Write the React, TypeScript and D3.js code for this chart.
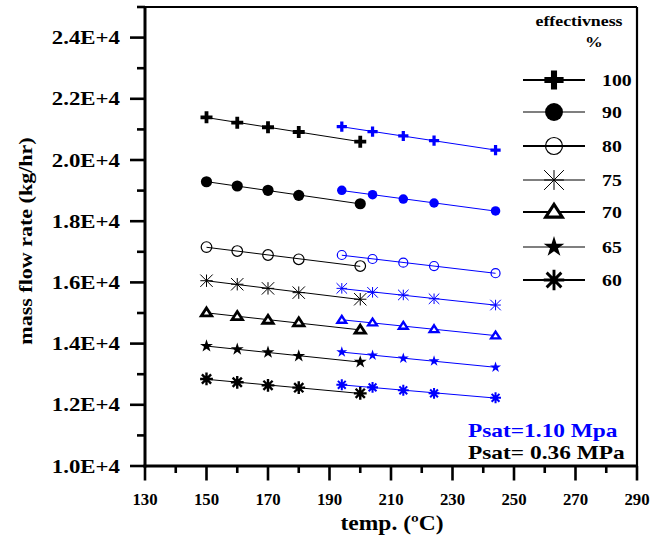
import React from 'react';
import * as d3 from 'd3';

// ---------- data ----------
const tempLow = [150, 160, 170, 180, 200];   // Psat = 0.36 MPa (black)
const tempHigh = [194, 204, 214, 224, 244];  // Psat = 1.10 MPa (blue)
const effectiveness = ['100', '90', '80', '75', '70', '65', '60'];
const markerTypes = ['plus', 'disc', 'circle', 'asterisk', 'triangle', 'star', 'boldAsterisk'];

const flowLow100 = [21395, 21220, 21070, 20915, 20600];
const flowLow90 = [19290, 19150, 19010, 18845, 18570];
const flowLow80 = [17155, 17025, 16895, 16755, 16535];
const flowLow75 = [16055, 15940, 15805, 15665, 15450];
const flowLow70 = [15010, 14890, 14770, 14685, 14445];
const flowLow65 = [13920, 13815, 13715, 13595, 13400];
const flowLow60 = [12845, 12735, 12635, 12560, 12375];

const flowHigh100 = [21090, 20925, 20785, 20630, 20325];
const flowHigh90 = [19010, 18865, 18725, 18595, 18335];
const flowHigh80 = [16895, 16765, 16645, 16535, 16300];
const flowHigh75 = [15805, 15675, 15590, 15465, 15260];
const flowHigh70 = [14770, 14685, 14575, 14465, 14260];
const flowHigh65 = [13725, 13620, 13520, 13430, 13225];
const flowHigh60 = [12655, 12570, 12475, 12375, 12230];

const lowSeries = [flowLow100, flowLow90, flowLow80, flowLow75, flowLow70, flowLow65, flowLow60];
const highSeries = [flowHigh100, flowHigh90, flowHigh80, flowHigh75, flowHigh70, flowHigh65, flowHigh60];

const xMajorTicks = d3.range(130, 291, 20);
const xMinorTicks = d3.range(140, 290, 20);
const yMajorTicks = d3.range(10000, 24001, 2000);
const yMinorTicks = d3.range(11000, 25001, 2000);

const pressureLabels = ['Psat=1.10 Mpa', 'Psat= 0.36 MPa'];

// ---------- layout ----------
const W = 665, H = 541;
const X0 = 145, X1 = 637, Y0 = 466, Y1 = 7;
const x = d3.scaleLinear().domain([130, 290]).range([X0, X1]);
const y = d3.scaleLinear().domain([10000, 25000]).range([Y0, Y1]);
const BLUE = '#0000ff';
const FONT = '"Liberation Serif", "Times New Roman", serif';

function fit(xs: number[], ys: number[]) {
  const mx = d3.mean(xs)!, my = d3.mean(ys)!;
  let num = 0, den = 0;
  xs.forEach((xi, i) => { num += (xi - mx) * (ys[i] - my); den += (xi - mx) ** 2; });
  const b = num / den, a = my - b * mx;
  const x0 = d3.min(xs)!, x1 = d3.max(xs)!;
  return [[x0, a + b * x0], [x1, a + b * x1]];
}

type TP = { x: number; y: number; sx?: number; rot?: number; anchor?: string; size: number; fill?: string; children: React.ReactNode };
function SText({ x, y, sx = 1, rot = 0, anchor = 'start', size, fill = '#000', children }: TP) {
  return (
    <text transform={`translate(${x},${y}) rotate(${rot}) scale(${sx},1)`} textAnchor={anchor} fontSize={size} fontWeight="bold" fill={fill}>
      {children}
    </text>
  );
}

type MP = { type: string; cx: number; cy: number; color: string; k: number };
function Marker({ type, cx, cy, color, k }: MP) {
  if (type === 'plus') {
    const h = 6 * k;
    return <path d={`M${cx - h},${cy}H${cx + h}M${cx},${cy - h}V${cy + h}`} stroke={color} strokeWidth={3.8 * k} fill="none" />;
  }
  if (type === 'disc') return <circle cx={cx} cy={cy} r={5.6 * k} fill={color} />;
  if (type === 'circle') return <circle cx={cx} cy={cy} r={5.3 * k} fill="none" stroke={color} strokeWidth={1.2} />;
  if (type === 'asterisk') {
    const h = 6.2 * k;
    return <path d={`M${cx - h},${cy}H${cx + h}M${cx},${cy - h}V${cy + h}M${cx - h},${cy - h}L${cx + h},${cy + h}M${cx - h},${cy + h}L${cx + h},${cy - h}`} stroke={color} strokeWidth={1} fill="none" />;
  }
  if (type === 'triangle') {
    const w = 5.2 * k, ht = 8 * k;
    return <path d={`M${cx},${cy - ht * 0.6}L${cx + w},${cy + ht * 0.4}L${cx - w},${cy + ht * 0.4}Z`} stroke={color} strokeWidth={2.8 * Math.min(k, 1.1)} fill="#fff" strokeLinejoin="miter" />;
  }
  if (type === 'star') {
    const r = 6.8 * k;
    const d = d3.symbol().type(d3.symbolStar).size((r * r) / 0.8908130915292852)()!;
    return <path d={d} transform={`translate(${cx},${cy})`} fill={color} />;
  }
  // bold asterisk
  const h = 6.4 * k, dd = 4.6 * k;
  return <path d={`M${cx - h},${cy}H${cx + h}M${cx},${cy - h}V${cy + h}M${cx - dd},${cy - dd}L${cx + dd},${cy + dd}M${cx - dd},${cy + dd}L${cx + dd},${cy - dd}`} stroke={color} strokeWidth={2.4 * Math.min(k, 1.2)} fill="none" />;
}

const legendRowY = [80, 112, 146, 180, 212, 247, 280];
const legendLineW = [2, 1.2, 2, 1.2, 2, 1.2, 2];

export default function App() {
  return (
    <svg width={W} height={H} style={{ position: 'absolute', left: 0, top: 0, background: '#fff' }} fontFamily={FONT}>
      <rect x={0} y={0} width={W} height={H} fill="#fff" />
      {/* frame */}
      <line x1={X0} x2={X1} y1={Y1} y2={Y1} stroke="#000" strokeWidth={2} />
      <line x1={X1} x2={X1} y1={Y1} y2={Y0} stroke="#000" strokeWidth={2.2} />
      {/* axes */}
      <line x1={X0} x2={X0} y1={Y1 - 1} y2={Y0 + 1.5} stroke="#000" strokeWidth={3} />
      <line x1={X0 - 1.5} x2={X1 + 1} y1={Y0} y2={Y0} stroke="#000" strokeWidth={3} />
      {yMajorTicks.map(v => (
        <g key={'ym' + v}>
          <line x1={X0 - 15} x2={X0} y1={y(v)} y2={y(v)} stroke="#000" strokeWidth={2.6} />
          <SText x={120} y={y(v) + 6.5} anchor="end" size={19.5} sx={1.17}>{(v / 10000).toFixed(1) + 'E+4'}</SText>
        </g>
      ))}
      {yMinorTicks.map(v => (
        <line key={'yn' + v} x1={X0 - 8} x2={X0} y1={y(v)} y2={y(v)} stroke="#000" strokeWidth={2.6} />
      ))}
      {xMajorTicks.map(v => (
        <g key={'xm' + v}>
          <line x1={x(v)} x2={x(v)} y1={Y0} y2={Y0 + 14.5} stroke="#000" strokeWidth={2.6} />
          <SText x={x(v)} y={505} anchor="middle" size={16} sx={1.05}>{v}</SText>
        </g>
      ))}
      {xMinorTicks.map(v => (
        <line key={'xn' + v} x1={x(v)} x2={x(v)} y1={Y0} y2={Y0 + 7} stroke="#000" strokeWidth={2.6} />
      ))}
      <SText x={392} y={530} anchor="middle" size={21} sx={1.12}>temp. (ºC)</SText>
      <SText x={32} y={241} rot={-90} anchor="middle" size={19} sx={1.16}>mass flow rate (kg/hr)</SText>

      {/* series */}
      {lowSeries.map((ys, i) => {
        const f = fit(tempLow, ys);
        return (
          <g key={'low' + i}>
            <line x1={x(f[0][0])} y1={y(f[0][1])} x2={x(f[1][0])} y2={y(f[1][1])} stroke="#000" strokeWidth={1} />
            {ys.map((v, j) => <Marker key={j} type={markerTypes[i]} cx={x(tempLow[j])} cy={y(v)} color="#000" k={1} />)}
          </g>
        );
      })}
      {highSeries.map((ys, i) => {
        const f = fit(tempHigh, ys);
        return (
          <g key={'high' + i}>
            <line x1={x(f[0][0])} y1={y(f[0][1])} x2={x(f[1][0])} y2={y(f[1][1])} stroke={BLUE} strokeWidth={1} />
            {ys.map((v, j) => <Marker key={j} type={markerTypes[i]} cx={x(tempHigh[j])} cy={y(v)} color={BLUE} k={0.85} />)}
          </g>
        );
      })}

      {/* legend */}
      <SText x={579} y={26} anchor="middle" size={15.5} sx={1.15}>effectivness</SText>
      <SText x={594} y={47} anchor="middle" size={15.5} sx={1.15}>%</SText>
      {effectiveness.map((e, i) => (
        <g key={'lg' + e}>
          <line x1={523} x2={585} y1={legendRowY[i]} y2={legendRowY[i]} stroke="#000" strokeWidth={legendLineW[i]} />
          <Marker type={markerTypes[i]} cx={554} cy={legendRowY[i]} color="#000" k={1.6} />
          <SText x={602} y={legendRowY[i] + 6} size={16.5} sx={1.2}>{e}</SText>
        </g>
      ))}

      {/* pressure labels */}
      <SText x={468} y={437} size={19} sx={1.23} fill={BLUE}>{pressureLabels[0]}</SText>
      <SText x={468} y={459} size={19} sx={1.23}>{pressureLabels[1]}</SText>
    </svg>
  );
}
